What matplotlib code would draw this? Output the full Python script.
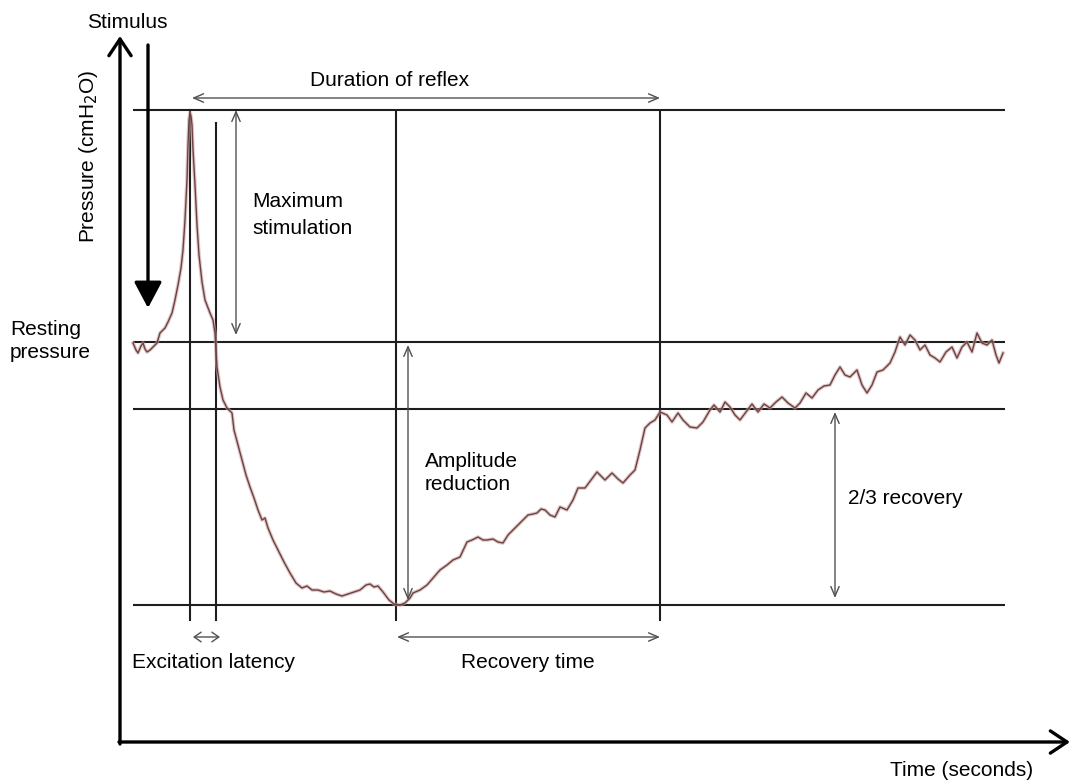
import numpy as np
import matplotlib
matplotlib.use("Agg")
import matplotlib.pyplot as plt

plt.rcParams['font.family'] = ['Liberation Sans', 'DejaVu Sans']

# Pressure trace (time, pressure) in arbitrary schematic units
t = [13, 16, 18, 21, 23, 25, 27, 30, 32, 37, 40, 45, 48, 52, 55, 58, 61, 63, 65, 67,
     68, 69, 70, 71, 72, 73, 75, 77, 79, 82, 85, 90, 93, 95, 97, 100, 103, 107, 112, 114,
     118, 122, 126, 130, 134, 138, 142, 145, 148, 153, 158, 164, 170, 176, 182, 187, 192, 198, 204, 210,
     216, 222, 228, 234, 240, 246, 250, 254, 258, 263, 269, 274, 280, 285, 290, 293, 300, 307, 313, 320,
     327, 333, 340, 347, 352, 358, 363, 367, 373, 378, 383, 388, 393, 400, 408, 413, 417, 421, 425, 430,
     435, 440, 447, 453, 458, 465, 471, 477, 485, 492, 498, 503, 510, 515, 520, 525, 530, 535, 540, 547,
     552, 558, 563, 570, 577, 583, 590, 594, 600, 605, 610, 615, 620, 626, 632, 638, 644, 650, 656, 662,
     668, 675, 680, 686, 692, 698, 704, 710, 715, 720, 725, 730, 737, 742, 747, 752, 757, 763, 770, 775,
     780, 785, 790, 795, 800, 805, 810, 815, 820, 826, 832, 837, 842, 847, 852, 857, 862, 867, 872, 876,
     879, 883]
p = [425, 418, 415, 422, 425, 419, 416, 418, 420, 425, 435, 440, 446, 455, 468, 483, 500, 518, 548, 588,
     623, 648, 655, 652, 643, 618, 583, 543, 513, 486, 468, 455, 448, 435, 401, 381, 368, 360, 355, 338,
     323, 308, 293, 281, 270, 258, 248, 250, 240, 228, 218, 206, 195, 185, 180, 182, 178, 178, 176, 177,
     174, 172, 174, 176, 178, 183, 184, 181, 182, 176, 168, 164, 163, 165, 170, 175, 178, 183, 190, 198,
     203, 208, 211, 226, 228, 231, 228, 228, 229, 226, 225, 233, 238, 245, 253, 254, 255, 259, 258, 253,
     251, 261, 258, 268, 280, 280, 288, 296, 288, 295, 289, 285, 293, 298, 318, 340, 345, 348, 356, 353,
     346, 355, 348, 341, 340, 346, 358, 363, 356, 366, 361, 353, 348, 356, 364, 356, 364, 360, 366, 371,
     365, 360, 365, 375, 370, 378, 382, 383, 393, 401, 393, 391, 398, 383, 375, 383, 396, 398, 405, 416,
     431, 423, 433, 428, 418, 423, 413, 410, 406, 416, 421, 410, 421, 426, 416, 435, 425, 423, 428, 413,
     405, 415]

# Reference levels
peak_level = 658
rest_level = 426
two_thirds_level = 359
min_level = 163
levels = [peak_level, rest_level, two_thirds_level, min_level]

# Event times
stim_peak = 70
latency_end = 96
min_time = 276
recovery_time = 540

fig = plt.figure(figsize=(10.71, 7.83), dpi=100)
ax = fig.add_axes([0, 0, 1, 1])
ax.set_xlim(-120, 951)
ax.set_ylim(-15, 768)
ax.axis('off')

line_col = '#1e1e1e'
arr_col = '#505050'

# horizontal reference lines
for lv in levels:
    ax.plot([13, 885], [lv, lv], color=line_col, lw=1.5, solid_capstyle='butt')

# vertical reference lines
ax.plot([stim_peak, stim_peak], [148, peak_level], color=line_col, lw=1.5)
ax.plot([latency_end, latency_end], [148, 645], color=line_col, lw=1.5)
ax.plot([min_time, min_time], [148, 656], color=line_col, lw=1.5)
ax.plot([recovery_time, recovery_time], [148, 656], color=line_col, lw=1.5)

# trace
ax.plot(t, p, color='#c9a3a3', lw=2.6, alpha=0.6, solid_joinstyle='round')
ax.plot(t, p, color='#6e4040', lw=1.0, solid_joinstyle='round')

# axes with open arrowheads
ax.annotate('', xy=(0, 732), xytext=(0, 24),
            arrowprops=dict(arrowstyle='->,head_length=1.2,head_width=0.8',
                            lw=2.4, color='black', shrinkA=0, shrinkB=0))
ax.annotate('', xy=(950, 26), xytext=(-1, 26),
            arrowprops=dict(arrowstyle='->,head_length=1.2,head_width=0.8',
                            lw=2.4, color='black', shrinkA=0, shrinkB=0))

# stimulus arrow
ax.annotate('', xy=(28, 460), xytext=(28, 723),
            arrowprops=dict(arrowstyle='-|>,head_length=1.6,head_width=0.85',
                            lw=2.4, color='black', shrinkA=0, shrinkB=0))


def dbl(x0, y0, x1, y1, hl=0.7, hw=0.3):
    ax.annotate('', xy=(x1, y1), xytext=(x0, y0),
                arrowprops=dict(arrowstyle='<->,head_length=%s,head_width=%s' % (hl, hw),
                                lw=1.0, color=arr_col, shrinkA=0, shrinkB=0))


dbl(72, 670, 540, 670)       # duration of reflex
dbl(116, 658, 116, 433)      # maximum stimulation
dbl(288, 423, 288, 168)      # amplitude reduction
dbl(715, 356, 715, 170)      # 2/3 recovery
dbl(73, 131, 100, 131, hl=0.5, hw=0.35)   # excitation latency
dbl(277, 131, 540, 131)      # recovery time

fs = 15
ax.text(7, 746, 'Stimulus', ha='center', va='center', fontsize=fs)
ax.text(-32, 612, 'Pressure (cmH$_2$O)', ha='center', va='center', rotation=90, fontsize=fs)
ax.text(-110, 427, 'Resting\npressure', ha='left', va='center', fontsize=fs, linespacing=1.27)
ax.text(270, 688, 'Duration of reflex', ha='center', va='center', fontsize=fs)
ax.text(132, 553, 'Maximum\nstimulation', ha='left', va='center', fontsize=fs, linespacing=1.5)
ax.text(305, 295, 'Amplitude\nreduction', ha='left', va='center', fontsize=fs, linespacing=1.32)
ax.text(728, 270, '2/3 recovery', ha='left', va='center', fontsize=fs)
ax.text(94, 106, 'Excitation latency', ha='center', va='center', fontsize=fs)
ax.text(408, 106, 'Recovery time', ha='center', va='center', fontsize=fs)
ax.text(913, -3, 'Time (seconds)', ha='right', va='center', fontsize=fs)

fig.savefig('out.png', dpi=100)
